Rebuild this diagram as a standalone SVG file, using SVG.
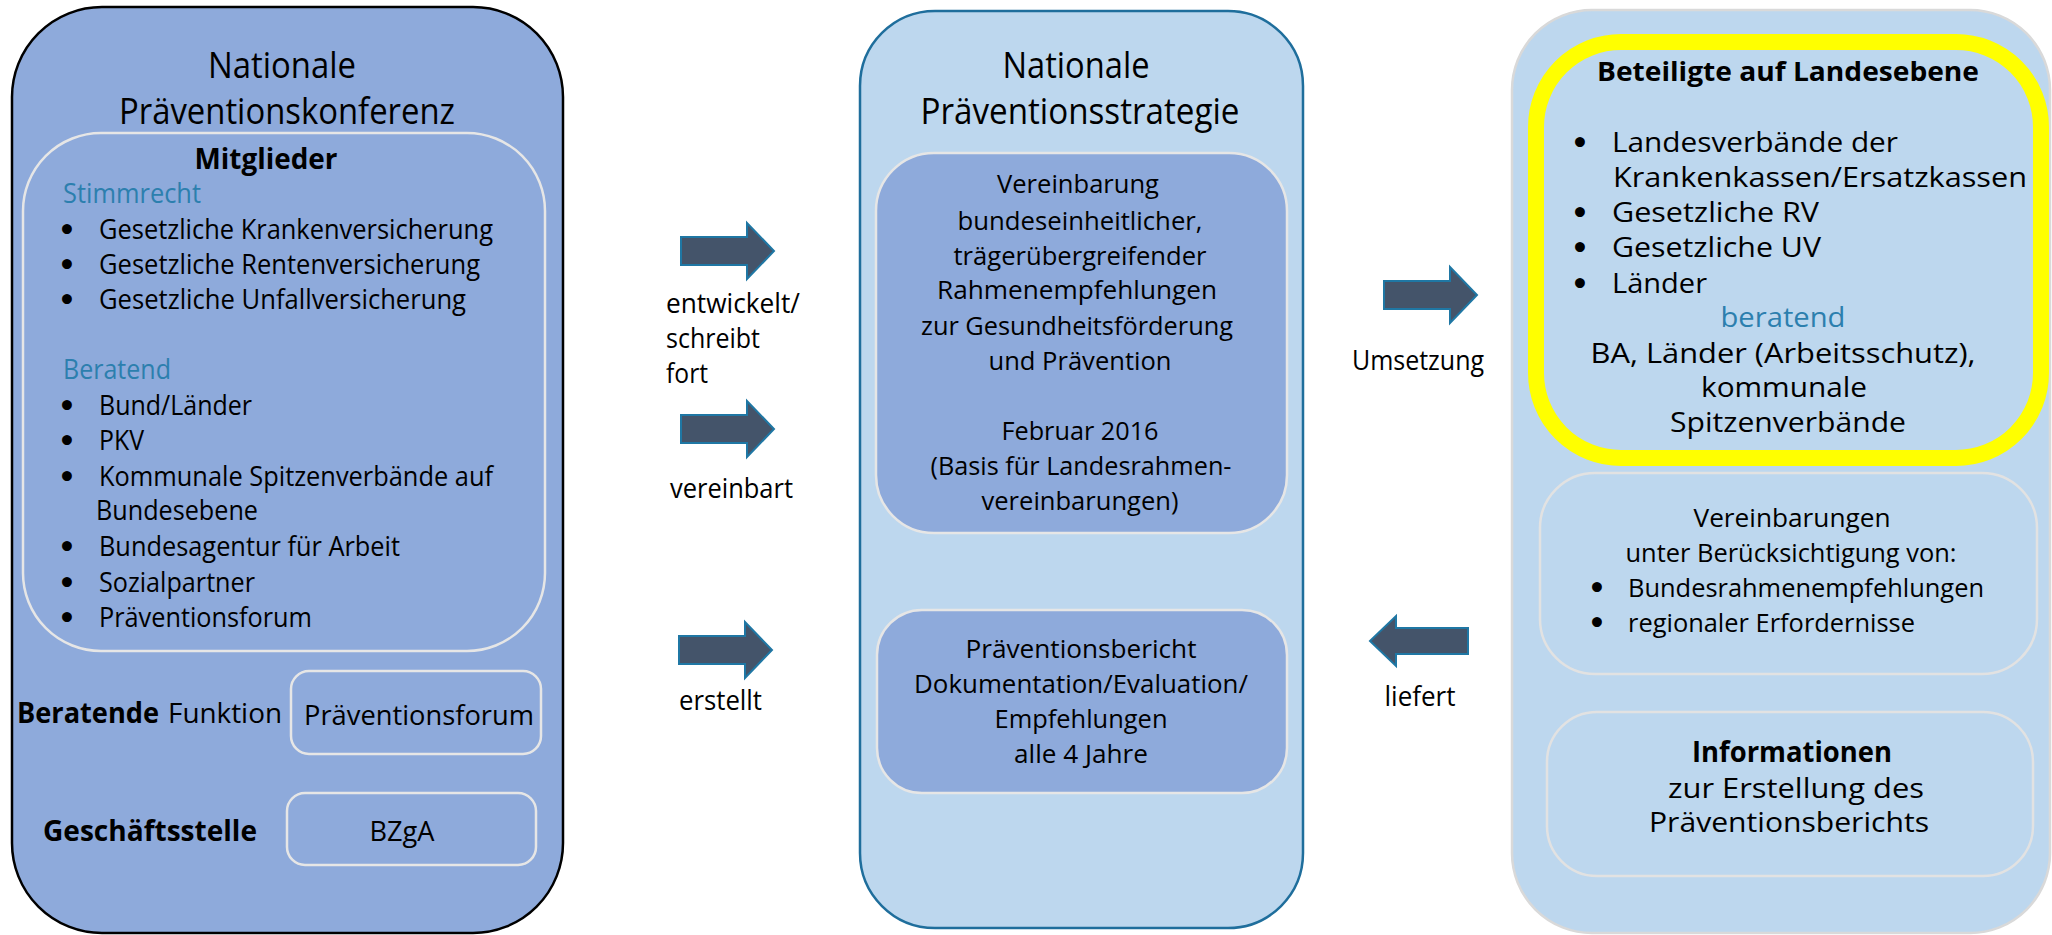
<svg xmlns="http://www.w3.org/2000/svg" xmlns:xlink="http://www.w3.org/1999/xlink" width="2052" height="935" viewBox="0 0 2052 935">
<style>
text{font-family:"Open Sans","Liberation Sans",sans-serif;fill:#000;}
.t36{font-size:36px;}
.t27{font-size:27px;}
.t26{font-size:26px;}
.t28{font-size:28px;}
.b{font-weight:700;}
.teal{fill:#2c7fae;}
.c{text-anchor:middle;}
.bu{font-family:"DejaVu Sans",sans-serif;font-weight:700;font-size:28px;text-anchor:middle;}
.outerL{fill:#8eaadb;stroke:#000;stroke-width:2.5;}
.inL{fill:#8eaadb;stroke:#e6e6e6;stroke-width:2.5;}
.outerM{fill:#bdd7ee;stroke:#1f6e9c;stroke-width:2.5;}
.inM{fill:#8eaadb;stroke:#e6e6e6;stroke-width:2.5;}
.outerR{fill:#bdd7ee;stroke:#d9d9d9;stroke-width:2.5;}
.inR{fill:none;stroke:#e2e2e2;stroke-width:2.5;}
.yel{fill:none;stroke:#ffff00;stroke-width:16;}
.arr{fill:#44546a;stroke:#1f77a4;stroke-width:2;}
</style>
<defs>
<path id="arrR" d="M0,-14 L66,-14 L66,-28 L93,0 L66,28 L66,14 L0,14 Z"/>
<path id="arrL" d="M0,0 L26,-25 L26,-13 L98,-13 L98,13 L26,13 L26,25 Z"/>
</defs>

<g id="nationale-praeventionskonferenz">
<rect class="outerL" x="12" y="7" width="551" height="926" rx="90"/>
<text class="t36 c" x="282" y="78" textLength="148" lengthAdjust="spacingAndGlyphs">Nationale</text>
<text class="t36 c" x="287" y="124" textLength="336" lengthAdjust="spacingAndGlyphs">Präventionskonferenz</text>
</g>

<g id="mitglieder">
<rect class="inL" x="23" y="133" width="522" height="518" rx="78"/>
<text class="t28 b c" x="266" y="169" textLength="143" lengthAdjust="spacingAndGlyphs">Mitglieder</text>
<text class="t27 teal" x="63" y="203" textLength="138" lengthAdjust="spacingAndGlyphs">Stimmrecht</text>
<text class="bu" x="67" y="240">•</text>
<text class="bu" x="67" y="275">•</text>
<text class="bu" x="67" y="310">•</text>
<text class="bu" x="67" y="416">•</text>
<text class="bu" x="67" y="451">•</text>
<text class="bu" x="67" y="487">•</text>
<text class="bu" x="67" y="557">•</text>
<text class="bu" x="67" y="593">•</text>
<text class="bu" x="67" y="628">•</text>
<text class="t27" x="99" y="239" textLength="394" lengthAdjust="spacingAndGlyphs">Gesetzliche Krankenversicherung</text>
<text class="t27" x="99" y="274" textLength="381" lengthAdjust="spacingAndGlyphs">Gesetzliche Rentenversicherung</text>
<text class="t27" x="99" y="309" textLength="367" lengthAdjust="spacingAndGlyphs">Gesetzliche Unfallversicherung</text>
<text class="t27 teal" x="63" y="379" textLength="108" lengthAdjust="spacingAndGlyphs">Beratend</text>
<text class="t27" x="99" y="415" textLength="153" lengthAdjust="spacingAndGlyphs">Bund/Länder</text>
<text class="t27" x="99" y="450" textLength="45" lengthAdjust="spacingAndGlyphs">PKV</text>
<text class="t27" x="99" y="486" textLength="394" lengthAdjust="spacingAndGlyphs">Kommunale Spitzenverbände auf</text>
<text class="t27" x="96" y="520" textLength="162" lengthAdjust="spacingAndGlyphs">Bundesebene</text>
<text class="t27" x="99" y="556" textLength="301" lengthAdjust="spacingAndGlyphs">Bundesagentur für Arbeit</text>
<text class="t27" x="99" y="592" textLength="156" lengthAdjust="spacingAndGlyphs">Sozialpartner</text>
<text class="t27" x="99" y="627" textLength="213" lengthAdjust="spacingAndGlyphs">Präventionsforum</text>
</g>

<g id="beratende-funktion">
<text class="t28 b" x="17" y="723" textLength="142" lengthAdjust="spacingAndGlyphs">Beratende</text>
<text class="t28" x="168" y="723" textLength="114" lengthAdjust="spacingAndGlyphs">Funktion</text>
<rect class="inL" x="291" y="671" width="250" height="83" rx="18"/>
<text class="t27" x="304" y="725" textLength="230" lengthAdjust="spacingAndGlyphs">Präventionsforum</text>
</g>

<g id="geschaeftsstelle">
<text class="t28 b" x="43" y="841" textLength="214" lengthAdjust="spacingAndGlyphs">Geschäftsstelle</text>
<rect class="inL" x="287" y="793" width="249" height="72" rx="18"/>
<text class="t27 c" x="402" y="841" textLength="65" lengthAdjust="spacingAndGlyphs">BZgA</text>
</g>

<g id="nationale-praeventionsstrategie">
<rect class="outerM" x="860" y="11" width="443" height="917" rx="75"/>
<text class="t36 c" x="1076" y="78" textLength="147" lengthAdjust="spacingAndGlyphs">Nationale</text>
<text class="t36 c" x="1080" y="124" textLength="319" lengthAdjust="spacingAndGlyphs">Präventionsstrategie</text>
</g>

<g id="rahmenempfehlungen">
<rect class="inM" x="876" y="153" width="411" height="380" rx="58"/>
<text class="t26 c" x="1078" y="193" textLength="162" lengthAdjust="spacingAndGlyphs">Vereinbarung</text>
<text class="t26 c" x="1080" y="230" textLength="245" lengthAdjust="spacingAndGlyphs">bundeseinheitlicher,</text>
<text class="t26 c" x="1080" y="265" textLength="253" lengthAdjust="spacingAndGlyphs">trägerübergreifender</text>
<text class="t26 c" x="1077" y="299" textLength="280" lengthAdjust="spacingAndGlyphs">Rahmenempfehlungen</text>
<text class="t26 c" x="1077" y="335" textLength="312" lengthAdjust="spacingAndGlyphs">zur Gesundheitsförderung</text>
<text class="t26 c" x="1080" y="370" textLength="183" lengthAdjust="spacingAndGlyphs">und Prävention</text>
<text class="t26 c" x="1080" y="440" textLength="157" lengthAdjust="spacingAndGlyphs">Februar 2016</text>
<text class="t26 c" x="1081" y="475" textLength="301" lengthAdjust="spacingAndGlyphs">(Basis für Landesrahmen-</text>
<text class="t26 c" x="1080" y="510" textLength="197" lengthAdjust="spacingAndGlyphs">vereinbarungen)</text>
</g>

<g id="praeventionsbericht">
<rect class="inM" x="877" y="610" width="410" height="183" rx="45"/>
<text class="t26 c" x="1081" y="658" textLength="231" lengthAdjust="spacingAndGlyphs">Präventionsbericht</text>
<text class="t26 c" x="1081" y="693" textLength="334" lengthAdjust="spacingAndGlyphs">Dokumentation/Evaluation/</text>
<text class="t26 c" x="1081" y="728" textLength="173" lengthAdjust="spacingAndGlyphs">Empfehlungen</text>
<text class="t26 c" x="1081" y="763" textLength="134" lengthAdjust="spacingAndGlyphs">alle 4 Jahre</text>
</g>

<g id="landesebene">
<rect class="outerR" x="1512" y="10" width="538" height="923" rx="80"/>
</g>

<g id="beteiligte-auf-landesebene">
<rect class="yel" x="1536" y="42" width="505" height="416" rx="85"/>
<text class="t27 b c" x="1788" y="81" textLength="382" lengthAdjust="spacingAndGlyphs">Beteiligte auf Landesebene</text>
<text class="bu" x="1580" y="153">•</text>
<text class="bu" x="1580" y="223">•</text>
<text class="bu" x="1580" y="258">•</text>
<text class="bu" x="1580" y="294">•</text>
<text class="t28" x="1612" y="152" textLength="286" lengthAdjust="spacingAndGlyphs">Landesverbände der</text>
<text class="t28" x="1613" y="187" textLength="414" lengthAdjust="spacingAndGlyphs">Krankenkassen/Ersatzkassen</text>
<text class="t28" x="1612" y="222" textLength="207" lengthAdjust="spacingAndGlyphs">Gesetzliche RV</text>
<text class="t28" x="1612" y="257" textLength="209" lengthAdjust="spacingAndGlyphs">Gesetzliche UV</text>
<text class="t28" x="1612" y="293" textLength="95" lengthAdjust="spacingAndGlyphs">Länder</text>
<text class="t28 c teal" x="1783" y="327" textLength="125" lengthAdjust="spacingAndGlyphs">beratend</text>
<text class="t28 c" x="1783" y="363" textLength="385" lengthAdjust="spacingAndGlyphs">BA, Länder (Arbeitsschutz),</text>
<text class="t28 c" x="1784" y="397" textLength="166" lengthAdjust="spacingAndGlyphs">kommunale</text>
<text class="t28 c" x="1788" y="432" textLength="236" lengthAdjust="spacingAndGlyphs">Spitzenverbände</text>
</g>

<g id="vereinbarungen">
<rect class="inR" x="1540" y="473" width="497" height="201" rx="55"/>
<text class="t26 c" x="1792" y="527" textLength="197" lengthAdjust="spacingAndGlyphs">Vereinbarungen</text>
<text class="t26 c" x="1791" y="562" textLength="331" lengthAdjust="spacingAndGlyphs">unter Berücksichtigung von:</text>
<text class="bu" x="1597" y="598">•</text>
<text class="bu" x="1597" y="633">•</text>
<text class="t26" x="1628" y="597" textLength="356" lengthAdjust="spacingAndGlyphs">Bundesrahmenempfehlungen</text>
<text class="t26" x="1628" y="632" textLength="287" lengthAdjust="spacingAndGlyphs">regionaler Erfordernisse</text>
</g>

<g id="informationen">
<rect class="inR" x="1547" y="712" width="486" height="164" rx="50"/>
<text class="t28 b c" x="1792" y="762" textLength="200" lengthAdjust="spacingAndGlyphs">Informationen</text>
<text class="t28 c" x="1796" y="798" textLength="256" lengthAdjust="spacingAndGlyphs">zur Erstellung des</text>
<text class="t28 c" x="1789" y="832" textLength="280" lengthAdjust="spacingAndGlyphs">Präventionsberichts</text>
</g>

<g id="connectors">
<use class="arr" xlink:href="#arrR" href="#arrR" x="681" y="251"/>
<text class="t27" x="666" y="313" textLength="134" lengthAdjust="spacingAndGlyphs">entwickelt/</text>
<text class="t27" x="666" y="348" textLength="94" lengthAdjust="spacingAndGlyphs">schreibt</text>
<text class="t27" x="666" y="383" textLength="42" lengthAdjust="spacingAndGlyphs">fort</text>
<use class="arr" xlink:href="#arrR" href="#arrR" x="681" y="429"/>
<text class="t27" x="670" y="498" textLength="123" lengthAdjust="spacingAndGlyphs">vereinbart</text>
<use class="arr" xlink:href="#arrR" href="#arrR" x="679" y="650"/>
<text class="t27" x="679" y="710" textLength="83" lengthAdjust="spacingAndGlyphs">erstellt</text>
<use class="arr" xlink:href="#arrR" href="#arrR" x="1384" y="295"/>
<text class="t27 c" x="1418" y="370" textLength="132" lengthAdjust="spacingAndGlyphs">Umsetzung</text>
<use class="arr" xlink:href="#arrL" href="#arrL" x="1370" y="641"/>
<text class="t27 c" x="1420" y="706" textLength="71" lengthAdjust="spacingAndGlyphs">liefert</text>
</g>
</svg>
